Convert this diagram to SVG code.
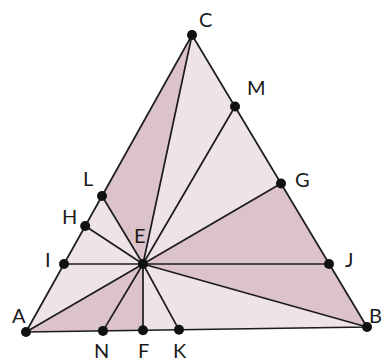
<svg xmlns="http://www.w3.org/2000/svg" width="382" height="361" viewBox="0 0 382 361">
<style>
.dk{fill:#dbc2cb;stroke:none}
.lt{fill:#eee3e8;stroke:none}
.ln{stroke:#1c1c1c;stroke-width:1.7;fill:none;stroke-linecap:round}
.dot{fill:#111}
.lb{font-family:Lato,"Open Sans",sans-serif;font-size:20px;fill:#1a1a1a}
</style>
<rect width="382" height="361" fill="#fff"/>
<g id="regions">
<polygon class="dk" points="143,264 26,332 103,330.9"/>
<polygon class="dk" points="143,264 103,330.9 143,330.3"/>
<polygon class="lt" points="143,264 143,330.3 179,329.8"/>
<polygon class="lt" points="143,264 179,329.8 367,327"/>
<polygon class="dk" points="143,264 367,327 329,264"/>
<polygon class="dk" points="143,264 329,264 281,183.5"/>
<polygon class="lt" points="143,264 281,183.5 235,106.5"/>
<polygon class="lt" points="143,264 235,106.5 192,35"/>
<polygon class="dk" points="143,264 192,35 102,196"/>
<polygon class="lt" points="143,264 102,196 85.2,226"/>
<polygon class="lt" points="143,264 85.2,226 64,264"/>
<polygon class="lt" points="143,264 64,264 26,332"/>
</g>
<g id="connectors" class="ln">
<polygon points="26,332 367,327 192,35"/>
<line x1="143" y1="264" x2="26" y2="332"/>
<line x1="143" y1="264" x2="103" y2="330.9"/>
<line x1="143" y1="264" x2="143" y2="330.3"/>
<line x1="143" y1="264" x2="179" y2="329.8"/>
<line x1="143" y1="264" x2="367" y2="327"/>
<line x1="143" y1="264" x2="329" y2="264"/>
<line x1="143" y1="264" x2="281" y2="183.5"/>
<line x1="143" y1="264" x2="235" y2="106.5"/>
<line x1="143" y1="264" x2="192" y2="35"/>
<line x1="143" y1="264" x2="102" y2="196"/>
<line x1="143" y1="264" x2="85.2" y2="226"/>
<line x1="143" y1="264" x2="64" y2="264"/>
</g>
<g id="A"><circle class="dot" cx="26" cy="332" r="5"/><text class="lb" x="12" y="323">A</text></g>
<g id="B"><circle class="dot" cx="367" cy="327" r="5"/><text class="lb" x="369" y="323">B</text></g>
<g id="C"><circle class="dot" cx="192" cy="35" r="5"/><text class="lb" x="199" y="27">C</text></g>
<g id="E"><circle class="dot" cx="143" cy="264" r="5"/><text class="lb" x="134" y="243">E</text></g>
<g id="F"><circle class="dot" cx="143" cy="330.3" r="5"/><text class="lb" x="138" y="358">F</text></g>
<g id="G"><circle class="dot" cx="281" cy="183.5" r="5"/><text class="lb" x="295" y="187">G</text></g>
<g id="H"><circle class="dot" cx="85.2" cy="226" r="5"/><text class="lb" x="62" y="224">H</text></g>
<g id="I"><circle class="dot" cx="64" cy="264" r="5"/><text class="lb" x="45" y="267">I</text></g>
<g id="J"><circle class="dot" cx="329" cy="264" r="5"/><text class="lb" x="345" y="267">J</text></g>
<g id="K"><circle class="dot" cx="179" cy="329.8" r="5"/><text class="lb" x="173" y="358">K</text></g>
<g id="L"><circle class="dot" cx="102" cy="196" r="5"/><text class="lb" x="83" y="186">L</text></g>
<g id="M"><circle class="dot" cx="235" cy="106.5" r="5"/><text class="lb" x="247" y="95">M</text></g>
<g id="N"><circle class="dot" cx="103" cy="330.9" r="5"/><text class="lb" x="94" y="358">N</text></g>
</svg>
